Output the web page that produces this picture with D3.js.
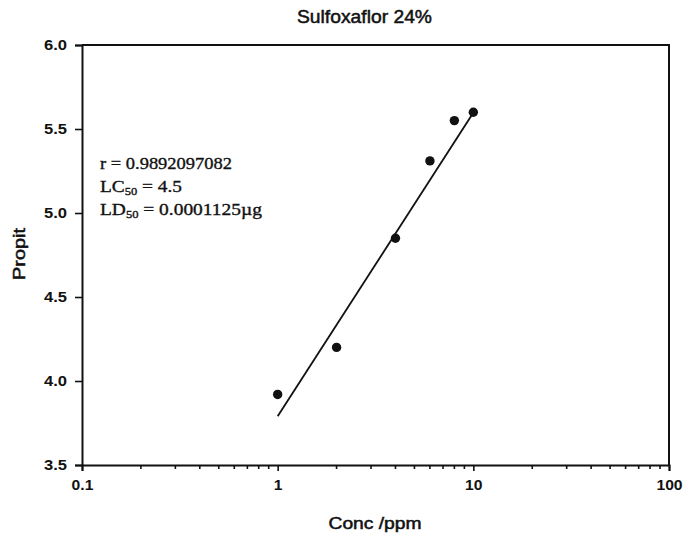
<!DOCTYPE html>
<html>
<head>
<meta charset="utf-8">
<script src="https://cdn.jsdelivr.net/npm/d3@7"></script>
<style>
  html, body { margin: 0; padding: 0; background: #fff; }
  svg text { fill: #111; }
</style>
</head>
<body>
<svg id="chart" width="691" height="538"></svg>
<script>
// Observed mortality (probit) at each test concentration
const concentrations = [1, 2, 4, 6, 8, 10];
const probits = [3.92, 4.20, 4.85, 5.31, 5.55, 5.60];

// Fitted regression line end points (concentration, probit)
const fitConc = [1, 10.3];
const fitProbit = [3.79, 5.62];

// Axis ticks
const xMajorTicks = [0.1, 1, 10, 100];
const xTickLabels = ["0.1", "1", "10", "100"];
const yTicks = [3.5, 4.0, 4.5, 5.0, 5.5, 6.0];
const yTickLabels = ["3.5", "4.0", "4.5", "5.0", "5.5", "6.0"];

const titleText = "Sulfoxaflor 24%";
const xLabel = "Conc /ppm";
const yLabel = "Propit";

const sans = "Liberation Sans, Arial, sans-serif";
const serif = "Liberation Serif, Times New Roman, serif";

const svg = d3.select("#chart");
const margin = { left: 82, right: 22, top: 45, bottom: 73 };
const W = 691, H = 538;
const innerW = W - margin.left - margin.right;
const innerH = H - margin.top - margin.bottom;

const x = d3.scaleLog().domain([0.1, 100]).range([margin.left, margin.left + innerW]);
const y = d3.scaleLinear().domain([3.5, 6.0]).range([margin.top + innerH, margin.top]);

// Frame (top and right sides)
svg.append("path")
  .attr("d", `M${x(0.1)},${y(6)}H${x(100)}V${y(3.5)}`)
  .attr("fill", "none").attr("stroke", "#111").attr("stroke-width", 2);

// X axis with major and minor log ticks
const minorTicks = x.ticks().filter(t => !xMajorTicks.some(m => Math.abs(m - t) < 1e-9));
const xAxis = d3.axisBottom(x).tickValues(xMajorTicks)
  .tickFormat((d, i) => xTickLabels[i]).tickSize(6).tickPadding(9);
const gx = svg.append("g").attr("transform", `translate(0,${y(3.5)})`).call(xAxis);
gx.select(".domain").attr("stroke", "#111").attr("stroke-width", 2);
gx.selectAll(".tick line").attr("stroke", "#111").attr("stroke-width", 1.6);
gx.selectAll(".tick text").attr("font-family", sans)
  .attr("font-size", 14).attr("font-weight", "bold").attr("fill", "#111")
  .attr("transform", "scale(1.12,1)");
gx.append("g").selectAll("line").data(minorTicks).join("line")
  .attr("x1", d => x(d)).attr("x2", d => x(d))
  .attr("y1", 0).attr("y2", 4)
  .attr("stroke", "#111").attr("stroke-width", 1.6);

// Y axis
const yAxis = d3.axisLeft(y).tickValues(yTicks)
  .tickFormat((d, i) => yTickLabels[i]).tickSize(7).tickPadding(0);
const gy = svg.append("g").attr("transform", `translate(${x(0.1)},0)`).call(yAxis);
gy.select(".domain").attr("stroke", "#111").attr("stroke-width", 2);
gy.selectAll(".tick line").attr("stroke", "#111").attr("stroke-width", 1.6);
gy.selectAll(".tick text").attr("font-family", sans)
  .attr("font-size", 14).attr("font-weight", "bold").attr("fill", "#111")
  .attr("x", -15).attr("textLength", 23).attr("lengthAdjust", "spacingAndGlyphs");

// Regression line
svg.append("line")
  .attr("x1", x(fitConc[0])).attr("y1", y(fitProbit[0]))
  .attr("x2", x(fitConc[1])).attr("y2", y(fitProbit[1]))
  .attr("stroke", "#111").attr("stroke-width", 1.8);

// Data points
svg.append("g").selectAll("circle")
  .data(concentrations.map((c, i) => ({ c, p: probits[i] })))
  .join("circle")
  .attr("cx", d => x(d.c)).attr("cy", d => y(d.p))
  .attr("r", 4.7).attr("fill", "#111");

// Title and axis labels
svg.append("text").attr("x", 364.5).attr("y", 23).attr("text-anchor", "middle")
  .attr("font-family", sans).attr("font-size", 18)
  .attr("stroke", "#111").attr("stroke-width", 0.5)
  .attr("textLength", 135).attr("lengthAdjust", "spacingAndGlyphs")
  .text(titleText);
svg.append("text").attr("x", 375).attr("y", 529).attr("text-anchor", "middle")
  .attr("font-family", sans).attr("font-size", 16)
  .attr("stroke", "#111").attr("stroke-width", 0.5)
  .attr("textLength", 93).attr("lengthAdjust", "spacingAndGlyphs")
  .text(xLabel);
svg.append("text").attr("transform", "translate(25,254) rotate(-90)").attr("text-anchor", "middle")
  .attr("font-family", sans).attr("font-size", 16)
  .attr("stroke", "#111").attr("stroke-width", 0.5)
  .attr("textLength", 52).attr("lengthAdjust", "spacingAndGlyphs")
  .text(yLabel);

// Statistics annotation
const ann = svg.append("g").attr("font-family", serif).attr("font-size", 17)
  .attr("stroke", "#111").attr("stroke-width", 0.35);
ann.append("text").attr("x", 100).attr("y", 169)
  .attr("textLength", 132).attr("lengthAdjust", "spacingAndGlyphs")
  .text("r = 0.9892097082");
const lc = ann.append("text").attr("x", 100).attr("y", 192);
lc.append("tspan").text("LC");
lc.append("tspan").attr("font-size", 11).attr("dy", 3).text("50");
lc.append("tspan").attr("dy", -3).text(" = 4.5");
const ld = ann.append("text").attr("x", 100).attr("y", 215);
ld.append("tspan").text("LD");
ld.append("tspan").attr("font-size", 11).attr("dy", 3).text("50");
ld.append("tspan").attr("dy", -3).text(" = 0.0001125µg");
// Stretch the two subscripted lines to their set widths
lc.attr("transform", function () {
  const w = this.getComputedTextLength();
  return `translate(100,0) scale(${82 / w},1) translate(-100,0)`;
});
ld.attr("transform", function () {
  const w = this.getComputedTextLength();
  return `translate(100,0) scale(${162 / w},1) translate(-100,0)`;
});
</script>
</body>
</html>
